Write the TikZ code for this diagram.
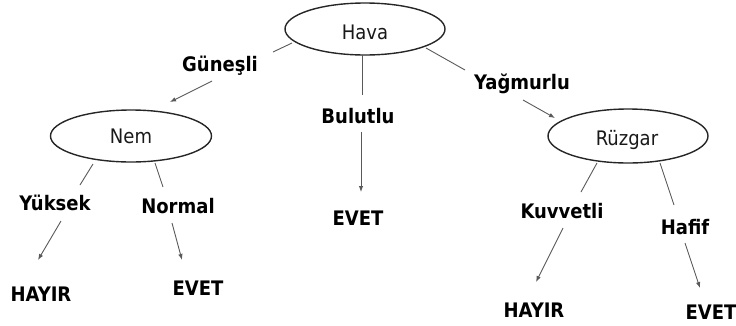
\documentclass[tikz,border=0pt]{standalone}
\usepackage{fontspec}
\setmainfont{DejaVu Sans Condensed}
\usetikzlibrary{shapes.geometric,arrows.meta}
\begin{document}
\begin{tikzpicture}[x=1pt,y=-1pt,
  oval/.style={ellipse,draw=black!85,line width=1.4pt,inner sep=0pt,font=\fontsize{20}{24}\selectfont},
  ovaltext/.style={anchor=base,inner sep=0pt,text=black!90,font=\fontsize{20}{24}\selectfont},
  lbl/.style={anchor=base,inner sep=0pt,font=\fontsize{20}{24}\selectfont\bfseries},
  leaf/.style={anchor=base,inner sep=0pt,font=\fontsize{20}{24}\selectfont\bfseries},
  edge/.style={draw=black!65,line width=0.9pt},
  arr/.style={draw=black!65,line width=0.9pt,-{Latex[length=6pt,width=4.5pt]}}]
\useasboundingbox (0,0) rectangle (736,325);
% ellipses
\node[oval,minimum width=160pt,minimum height=52pt] (hava) at (365,29) {};
\node[oval,minimum width=161pt,minimum height=52pt] (nem) at (131,136) {};
\node[oval,minimum width=160pt,minimum height=54pt] (ruzgar) at (628,136) {};
\node[ovaltext] (thava) at (365,39) {Hava};
\node[ovaltext] (tnem) at (131,143) {Nem};
\node[ovaltext] (truzgar) at (627,145) {Rüzgar};
% branch labels
\node[lbl] (gunesli) at (220,71) {Güneşli};
\node[lbl] (bulutlu) at (358,123) {Bulutlu};
\node[lbl] (yagmurlu) at (522,89) {Yağmurlu};
\node[lbl] (yuksek) at (55,210) {Yüksek};
\node[lbl] (normal) at (178,213) {Normal};
\node[lbl] (kuvvetli) at (562,218) {Kuvvetli};
\node[lbl] (hafif) at (685,234) {Hafif};
% leaves
\node[leaf] (hayir1) at (41,301) {HAYIR};
\node[leaf] (evet1) at (198,295) {EVET};
\node[leaf] (evet2) at (358,225) {EVET};
\node[leaf] (hayir2) at (534,317) {HAYIR};
\node[leaf] (evet3) at (711,319) {EVET};
% connector end points
\coordinate (h1) at (292,43);  \coordinate (g1) at (273,52);
\coordinate (g2) at (212,81);  \coordinate (n0) at (170,102);
\coordinate (h2) at (362,55);  \coordinate (b1) at (362,95);
\coordinate (b2) at (361,132); \coordinate (e2) at (361,192);
\coordinate (h3) at (426,48);  \coordinate (y1) at (465,70);
\coordinate (y2) at (523,100); \coordinate (r0) at (555,118);
\coordinate (n1) at (93,164);  \coordinate (yk1) at (80,185);
\coordinate (n2) at (155,163); \coordinate (no1) at (163,187);
\coordinate (yk2) at (61,221); \coordinate (hy1) at (38,260);
\coordinate (no2) at (172,223);\coordinate (ev1) at (182,260);
\coordinate (r1) at (597,163); \coordinate (k1) at (581,192);
\coordinate (r2) at (660,163); \coordinate (hf1) at (674,205);
\coordinate (k2) at (563,228); \coordinate (hy2) at (536,282);
\coordinate (hf2) at (685,243);\coordinate (ev3) at (700,288);
% connectors
\draw[edge] (h1) -- (g1);
\draw[arr] (g2) -- (n0);
\draw[edge] (h2) -- (b1);
\draw[arr] (b2) -- (e2);
\draw[edge] (h3) -- (y1);
\draw[arr] (y2) -- (r0);
\draw[edge] (n1) -- (yk1);
\draw[edge] (n2) -- (no1);
\draw[arr] (yk2) -- (hy1);
\draw[arr] (no2) -- (ev1);
\draw[edge] (r1) -- (k1);
\draw[edge] (r2) -- (hf1);
\draw[arr] (k2) -- (hy2);
\draw[arr] (hf2) -- (ev3);
\end{tikzpicture}
\end{document}
